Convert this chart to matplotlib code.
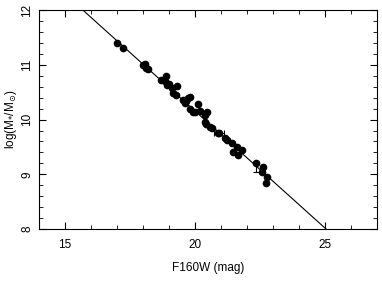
import numpy as np
from matplotlib import pyplot as plt
from matplotlib.ticker import MultipleLocator

plt.rcParams['font.family'] = ['Liberation Sans', 'DejaVu Sans']
plt.rcParams['mathtext.fontset'] = 'dejavusans'

# F160W magnitude und stellare Masse
mag = [17.0, 17.23, 18.0, 18.08, 18.12, 18.19, 18.69, 18.88, 18.92, 18.85,
       19.0, 19.12, 19.15, 19.31, 19.27, 19.54, 19.62, 19.65, 19.73, 19.81,
       19.81, 19.92, 20.0, 20.12, 20.19, 20.38, 20.46, 20.38, 20.42, 20.58,
       20.65, 20.88, 21.15, 21.23, 21.42, 21.62, 21.46, 21.65, 21.81,
       22.62, 22.58, 22.77, 22.73]
logm = [11.40, 11.31, 11.0, 11.01, 10.94, 10.92, 10.72, 10.79, 10.63, 10.70,
        10.65, 10.58, 10.48, 10.61, 10.45, 10.36, 10.30, 10.34, 10.39, 10.41,
        10.19, 10.14, 10.14, 10.28, 10.16, 10.08, 10.14, 9.95, 9.92, 9.86,
        9.84, 9.75, 9.66, 9.62, 9.57, 9.50, 9.41, 9.35, 9.44,
        9.13, 9.04, 8.95, 8.84]

# Punkte mit Fehlerbalken
err_mag = [20.92, 22.35]
err_logm = [9.75, 9.21]
err_x = [0.2, 0.0]
err_y_lo = [0.0, 0.16]
err_y_hi = [0.0, 0.0]

# Fit-Linie
fit_mag = [15.69, 25.04]
fit_logm = [12.0, 8.0]

fig = plt.figure(figsize=(3.82, 2.81), dpi=100)
ax = fig.add_axes([0.102, 0.185, 0.885, 0.779])

ax.plot(np.array(fit_mag) + np.array([-1, 1]) * 2,
        np.array(fit_logm) + np.array([1, -1]) * 2 * 4 / (fit_mag[1] - fit_mag[0]),
        color='black', lw=0.8)
ax.plot(mag, logm, 'o', color='black', ms=4.5, mec='black')
ax.errorbar(err_mag, err_logm, xerr=err_x, yerr=[err_y_lo, err_y_hi],
            fmt='o', color='black', ms=4.5, elinewidth=0.8, capsize=2.5, capthick=0.8)

ax.set_xlim(14, 27)
ax.set_ylim(8, 12)
ax.xaxis.set_major_locator(MultipleLocator(5))
ax.xaxis.set_minor_locator(MultipleLocator(1))
ax.yaxis.set_major_locator(MultipleLocator(1))
ax.yaxis.set_minor_locator(MultipleLocator(0.2))
ax.tick_params(which='both', direction='in', top=True, right=True, labelsize=8.5)
ax.tick_params(axis='x', pad=7)
ax.tick_params(axis='y', pad=4)
ax.tick_params(which='major', length=5, width=0.8)
ax.tick_params(which='minor', length=3, width=0.6)
for lab in ax.get_yticklabels():
    lab.set_rotation(90)
    lab.set_va('center')
for s in ax.spines.values():
    s.set_linewidth(0.8)

ax.set_xlabel("F160W (mag)", fontsize=8.5, labelpad=8)
ax.set_ylabel(r"log(M$_{*}$/M$_{\odot}$)", fontsize=8.5)
ax.yaxis.set_label_coords(-0.06, 0.5)

plt.savefig("out.png", dpi=100)
